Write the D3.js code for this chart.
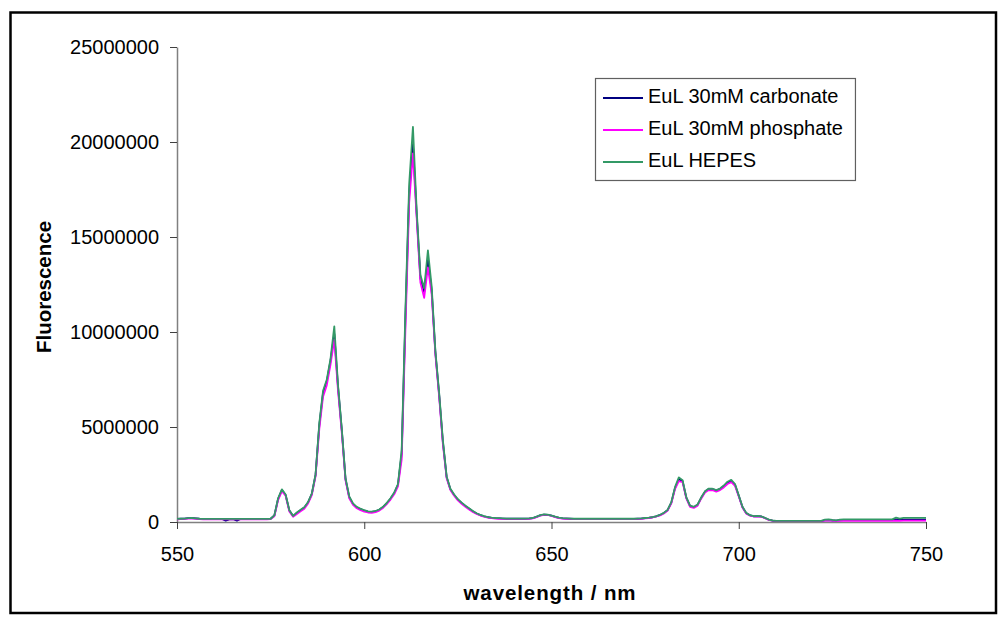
<!DOCTYPE html>
<html>
<head>
<meta charset="utf-8">
<script src="https://cdn.jsdelivr.net/npm/d3@7/dist/d3.min.js"></script>
<style>
  html, body { margin: 0; padding: 0; background: #fff; }
  svg { display: block; font-family: "Liberation Sans", Arial, sans-serif; }
</style>
</head>
<body>
<svg id="chart" width="1004" height="624"></svg>
<script>
// Emission spectra, 550–750 nm in 1 nm steps; intensities in units of 10^6 counts
const wavelengths = d3.range(550, 751);

const carbonate = [
  0.16,0.17,0.18,0.20,0.21,0.19,0.17,0.16,0.16,0.16, // 550
  0.16,0.16,0.16,0.07,0.14,0.15,0.07,0.16,0.16,0.16, // 560
  0.16,0.16,0.16,0.16,0.16,0.17,0.34,1.22,1.68,1.42, // 570
  0.60,0.31,0.48,0.62,0.76,1.03,1.48,2.48,5.10,6.80, // 580
  7.40,8.50,9.90,7.10,4.85,2.25,1.30,0.94,0.76,0.68, // 590
  0.60,0.55,0.53,0.56,0.64,0.78,0.98,1.22,1.52,1.96, // 600
  3.60,10.80,17.30,19.90,16.20,12.80,12.10,13.80,12.20,8.90, // 610
  6.70,4.20,2.36,1.72,1.42,1.18,1.00,0.84,0.70,0.56, // 620
  0.45,0.36,0.30,0.25,0.22,0.20,0.19,0.18,0.17,0.17, // 630
  0.17,0.17,0.17,0.17,0.18,0.20,0.27,0.35,0.39,0.38, // 640
  0.33,0.27,0.22,0.19,0.18,0.17,0.16,0.16,0.16,0.16, // 650
  0.16,0.16,0.16,0.16,0.16,0.16,0.16,0.16,0.16,0.16, // 660
  0.16,0.16,0.16,0.17,0.18,0.20,0.22,0.25,0.30,0.37, // 670
  0.47,0.62,1.02,1.80,2.25,2.15,1.28,0.84,0.78,0.90, // 680
  1.28,1.60,1.74,1.73,1.66,1.74,1.88,2.06,2.15,1.96, // 690
  1.38,0.78,0.46,0.35,0.30,0.31,0.29,0.21,0.12,0.07, // 700
  0.05,0.05,0.05,0.05,0.05,0.05,0.05,0.05,0.05,0.05, // 710
  0.05,0.05,0.05,0.09,0.10,0.08,0.07,0.09,0.10,0.10, // 720
  0.10,0.10,0.10,0.10,0.10,0.10,0.10,0.10,0.10,0.10, // 730
  0.10,0.10,0.14,0.11,0.13,0.13,0.13,0.13,0.13,0.13, // 740
  0.13                                               // 750
];

const phosphate = [
  0.14,0.15,0.16,0.18,0.19,0.17,0.15,0.14,0.14,0.14, // 550
  0.14,0.14,0.14,0.14,0.14,0.14,0.14,0.14,0.14,0.14, // 560
  0.14,0.14,0.14,0.14,0.14,0.15,0.30,1.15,1.62,1.38, // 570
  0.55,0.28,0.42,0.56,0.70,0.98,1.42,2.40,4.90,6.60, // 580
  7.20,8.30,9.60,6.90,4.70,2.20,1.25,0.90,0.72,0.62, // 590
  0.55,0.50,0.48,0.52,0.60,0.74,0.94,1.18,1.46,1.88, // 600
  3.30,10.20,16.80,19.40,16.00,12.60,11.80,13.40,12.00,8.80, // 610
  6.60,4.10,2.30,1.68,1.38,1.14,0.96,0.80,0.66,0.53, // 620
  0.42,0.34,0.28,0.23,0.20,0.18,0.17,0.16,0.16,0.16, // 630
  0.16,0.16,0.16,0.16,0.17,0.19,0.26,0.34,0.38,0.37, // 640
  0.32,0.26,0.21,0.18,0.17,0.16,0.15,0.15,0.15,0.15, // 650
  0.15,0.15,0.15,0.15,0.15,0.15,0.15,0.15,0.15,0.15, // 660
  0.15,0.15,0.15,0.16,0.17,0.19,0.21,0.24,0.29,0.35, // 670
  0.45,0.60,0.98,1.75,2.15,2.10,1.24,0.80,0.74,0.86, // 680
  1.24,1.55,1.68,1.67,1.60,1.68,1.82,2.00,2.10,1.90, // 690
  1.34,0.76,0.44,0.34,0.29,0.30,0.28,0.20,0.11,0.07, // 700
  0.05,0.05,0.05,0.05,0.05,0.05,0.05,0.05,0.05,0.05, // 710
  0.05,0.05,0.05,0.08,0.08,0.07,0.06,0.06,0.06,0.06, // 720
  0.06,0.06,0.06,0.06,0.06,0.06,0.06,0.06,0.06,0.06, // 730
  0.06,0.06,0.07,0.06,0.07,0.07,0.07,0.07,0.07,0.07, // 740
  0.07                                               // 750
];

const hepes = [
  0.16,0.17,0.18,0.20,0.21,0.19,0.17,0.16,0.16,0.16, // 550
  0.16,0.16,0.16,0.16,0.16,0.16,0.16,0.16,0.16,0.16, // 560
  0.16,0.16,0.16,0.16,0.16,0.17,0.35,1.25,1.72,1.45, // 570
  0.62,0.32,0.50,0.64,0.78,1.05,1.50,2.50,5.20,6.90, // 580
  7.50,8.60,10.30,7.20,4.90,2.30,1.35,0.98,0.80,0.70, // 590
  0.62,0.56,0.55,0.58,0.66,0.80,1.00,1.25,1.55,2.00, // 600
  3.80,11.20,17.80,20.80,16.40,13.00,12.30,14.30,12.40,9.00, // 610
  6.80,4.30,2.40,1.75,1.45,1.20,1.02,0.86,0.72,0.58, // 620
  0.46,0.37,0.31,0.26,0.23,0.21,0.20,0.19,0.18,0.18, // 630
  0.18,0.18,0.18,0.18,0.19,0.21,0.28,0.36,0.40,0.39, // 640
  0.34,0.28,0.23,0.20,0.19,0.18,0.17,0.17,0.17,0.17, // 650
  0.17,0.17,0.17,0.17,0.17,0.17,0.17,0.17,0.17,0.17, // 660
  0.17,0.17,0.17,0.18,0.19,0.21,0.23,0.26,0.31,0.38, // 670
  0.48,0.64,1.05,1.85,2.35,2.20,1.30,0.86,0.80,0.92, // 680
  1.30,1.62,1.76,1.75,1.68,1.76,1.92,2.12,2.22,2.00, // 690
  1.40,0.80,0.48,0.36,0.31,0.32,0.30,0.22,0.13,0.08, // 700
  0.06,0.06,0.06,0.06,0.06,0.06,0.06,0.06,0.06,0.06, // 710
  0.06,0.06,0.06,0.12,0.14,0.11,0.09,0.13,0.14,0.14, // 720
  0.14,0.14,0.14,0.14,0.14,0.14,0.14,0.14,0.14,0.14, // 730
  0.14,0.14,0.23,0.18,0.22,0.22,0.22,0.22,0.22,0.22, // 740
  0.22                                               // 750
];

const seriesNames  = ["EuL 30mM carbonate", "EuL 30mM phosphate", "EuL HEPES"];
const seriesColors = ["#000080", "#FF00FF", "#339966"];
const xTicks = [550, 600, 650, 700, 750];
const yTicks = [0, 5000000, 10000000, 15000000, 20000000, 25000000];
const UNIT = 1e6;

const svg = d3.select("#chart");

// outer chart frame
svg.append("rect")
  .attr("x", 10.5).attr("y", 12.5)
  .attr("width", 985.5).attr("height", 600.5)
  .attr("fill", "#fff").attr("stroke", "#000").attr("stroke-width", 2.5);

const plot = { left: 177, right: 926, top: 47, bottom: 522 };

const x = d3.scaleLinear().domain([550, 750]).range([plot.left, plot.right]);
const y = d3.scaleLinear().domain([0, 25000000]).range([plot.bottom, plot.top]);

// axes
const yAxis = svg.append("g")
  .attr("transform", `translate(${plot.left},0)`)
  .call(d3.axisLeft(y).tickValues(yTicks).tickSize(7).tickSizeOuter(0).tickPadding(11)
        .tickFormat(d3.format("d")));
const xAxis = svg.append("g")
  .attr("transform", `translate(0,${plot.bottom})`)
  .call(d3.axisBottom(x).tickValues(xTicks).tickSize(7).tickSizeOuter(0).tickPadding(18)
        .tickFormat(d3.format("d")));

[xAxis, yAxis].forEach(g => {
  g.select(".domain").attr("stroke", "#808080").attr("stroke-width", 1.5);
  g.selectAll(".tick line").attr("stroke", "#404040").attr("stroke-width", 1);
  g.selectAll(".tick text")
    .attr("fill", "#000")
    .style("font-family", "'Liberation Sans', Arial, sans-serif")
    .style("font-size", "20px");
});

// spectra
const line = d3.line()
  .x((d, i) => x(wavelengths[i]))
  .y(d => y(d * UNIT));

[carbonate, phosphate, hepes].forEach((vals, k) => {
  svg.append("path")
    .datum(vals)
    .attr("fill", "none")
    .attr("stroke", seriesColors[k])
    .attr("stroke-width", 1.8)
    .attr("stroke-linejoin", "round")
    .attr("d", line);
});

// axis titles
svg.append("text")
  .attr("x", 550).attr("y", 600)
  .attr("text-anchor", "middle")
  .style("font-size", "20.5px").style("font-weight", "bold")
  .style("letter-spacing", "0.9px")
  .text("wavelength / nm");

svg.append("text")
  .attr("transform", "translate(51,287) rotate(-90)")
  .attr("text-anchor", "middle")
  .style("font-size", "20.5px").style("font-weight", "bold")
  .text("Fluorescence");

// legend
const legend = svg.append("g").attr("transform", "translate(595,78)");
const legendBox = legend.append("rect")
  .attr("x", 0.5).attr("y", 0.5)
  .attr("fill", "#fff").attr("stroke", "#606060").attr("stroke-width", 1.2);

const rows = legend.selectAll("g.row").data(seriesNames).enter().append("g")
  .attr("class", "row")
  .attr("transform", (d, i) => `translate(0,${25 + i * 32})`);
rows.append("line")
  .attr("x1", 8).attr("x2", 48).attr("y1", -5).attr("y2", -5)
  .attr("stroke", (d, i) => seriesColors[i]).attr("stroke-width", 1.8);
rows.append("text")
  .attr("x", 53).attr("y", 0)
  .style("font-size", "20px")
  .text(d => d);

let maxW = 0;
rows.selectAll("text").each(function () { maxW = Math.max(maxW, this.getComputedTextLength()); });
legendBox.attr("width", 53 + maxW + 12).attr("height", 102);
</script>
</body>
</html>
